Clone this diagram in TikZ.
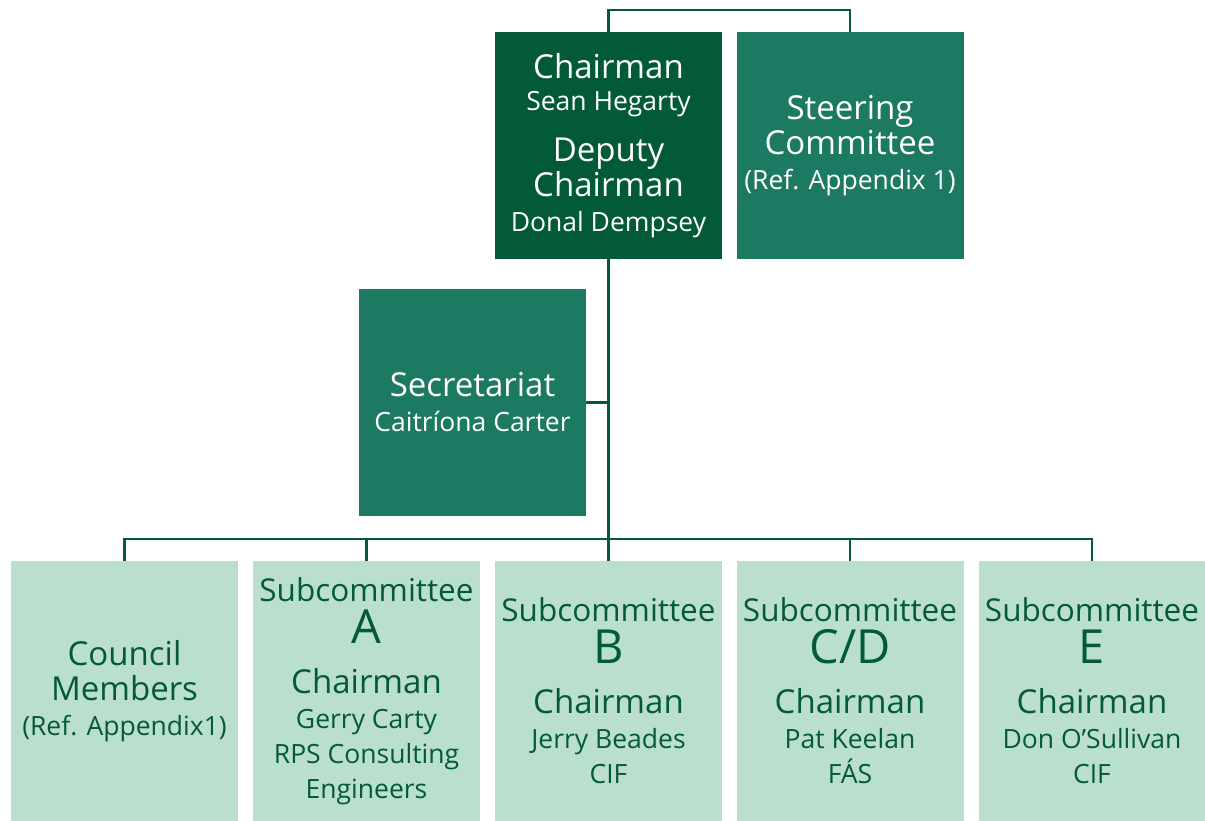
\documentclass[tikz,border=0pt]{standalone}
\usepackage{fontspec}
\setmainfont{Open Sans}
\definecolor{darkgr}{HTML}{035A36}
\definecolor{midgr}{HTML}{1C7A62}
\definecolor{lightgr}{HTML}{BBDFCD}
\newcommand{\bigtx}{\fontsize{33}{35}\selectfont}
\newcommand{\subtx}{\fontsize{31.5}{35}\selectfont}
\newcommand{\smalltx}{\fontsize{26.5}{35}\selectfont}
\newcommand{\lettertx}{\fontsize{47}{35}\selectfont}

\begin{document}
\begin{tikzpicture}[x=1pt,y=-1pt,
    box/.style={rectangle,inner sep=0pt,minimum width=227pt,align=center,font=\bigtx},
    chairbox/.style={box,fill=darkgr,text=white,minimum height=227pt},
    midbox/.style={box,fill=midgr,text=white,minimum height=227pt},
    subbox/.style={box,fill=lightgr,text=darkgr,minimum height=260pt},
    link/.style={draw=darkgr,line width=2.5pt}]
  \useasboundingbox (0,0) rectangle (1205,821);
  \node[chairbox] (chair) at (608.5,145.5)
    {\bigtx Chairman\\[-3pt]\smalltx Sean Hegarty\\[16pt]\bigtx Deputy\\\bigtx Chairman\\\smalltx Donal Dempsey};
  \node[midbox] (steer) at (850,145.5)
    {\bigtx Steering\\\bigtx Committee\\\smalltx (Ref. Appendix 1)};
  \node[midbox] (sec) at (472.5,402.5)
    {\bigtx Secretariat\\\smalltx Caitríona Carter};
  \node[subbox] (council) at (124.5,691)
    {\bigtx Council\\\bigtx Members\\\smalltx (Ref. Appendix1)};
  \node[subbox] (subA) at (366.5,691)
    {\subtx Subcommittee\\[7pt]\lettertx A\\[15pt]\bigtx Chairman\\\smalltx Gerry Carty\\\smalltx RPS Consulting\\\smalltx Engineers};
  \node[subbox] (subB) at (608.5,691)
    {\subtx Subcommittee\\[7pt]\lettertx B\\[15pt]\bigtx Chairman\\\smalltx Jerry Beades\\\smalltx CIF};
  \node[subbox] (subCD) at (850,691)
    {\subtx Subcommittee\\[7pt]\lettertx C/D\\[15pt]\bigtx Chairman\\\smalltx Pat Keelan\\\smalltx FÁS};
  \node[subbox] (subE) at (1092,691)
    {\subtx Subcommittee\\[7pt]\lettertx E\\[15pt]\bigtx Chairman\\\smalltx Don O’Sullivan\\\smalltx CIF};
  \coordinate (bus) at (608.5,539);

  \draw[link] (chair.north) -- ++(0,-22) -| (steer.north);
  \draw[link] (chair.south) -- (bus);
  \draw[link] (sec.east) -- (sec.east -| chair.south);
  \draw[link] (council.north) |- (bus) -| (subE.north);
  \foreach \n in {subA,subB,subCD}
    \draw[link] (\n.north) -- (\n.north |- bus);
\end{tikzpicture}
\end{document}
